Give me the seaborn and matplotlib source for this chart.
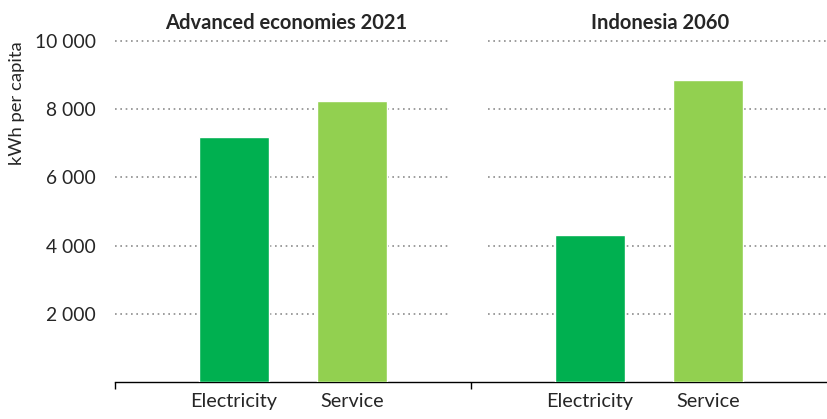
import matplotlib
matplotlib.use("Agg")
import matplotlib.pyplot as plt
import seaborn as sns
import pandas as pd

# values (kWh per capita)
categories = ["Electricity", "Service"]
panels = ["Advanced economies 2021", "Indonesia 2060"]
advanced_2021 = [7200, 8250]
indonesia_2060 = [4300, 8870]
yticks = [2000, 4000, 6000, 8000, 10000]
ytick_labels = ["2 000", "4 000", "6 000", "8 000", "10 000"]

colors = {"Electricity": "#00B050", "Service": "#92D050"}

sns.set_style("white")
plt.rcParams["font.family"] = ["Lato", "DejaVu Sans"]

fig, axes = plt.subplots(1, 2, figsize=(8.27, 4.19), dpi=100, sharey=True)
fig.subplots_adjust(left=0.139, right=1.0, bottom=0.088, top=0.902, wspace=0)

for ax, title, vals in zip(axes, panels, [advanced_2021, indonesia_2060]):
    df = pd.DataFrame({"cat": categories, "val": vals})
    sns.barplot(data=df, x="cat", y="val", hue="cat", palette=colors,
                saturation=1, width=0.59, legend=False, ax=ax, zorder=3)
    ax.set_xlim(-1.0, 2.0)
    ax.set_ylim(0, 10000)
    ax.set_xlabel("")
    ax.set_ylabel("")
    for s in ["top", "right", "left"]:
        ax.spines[s].set_visible(False)
    ax.spines["bottom"].set_color("black")
    ax.spines["bottom"].set_linewidth(1.0)
    ax.tick_params(axis="x", length=0, labelsize=14.3, pad=8)
    ax.tick_params(axis="y", length=0, labelsize=13.9, pad=14)

axes[0].set_title(panels[0], fontsize=14.5, fontweight="bold", x=0.48, pad=9)
axes[1].set_title(panels[1], fontsize=14.5, fontweight="bold", x=0.53, pad=9)

# dotted gridlines, with a gap around the panel divider
for y in yticks:
    axes[0].axhline(y, xmin=0, xmax=0.944, color="#8C8C8C", lw=1.2,
                    ls=(0, (1, 2.2)), zorder=1, clip_on=False)
    axes[1].axhline(y, xmin=0.048, xmax=1.0, color="#8C8C8C", lw=1.2,
                    ls=(0, (1, 2.2)), zorder=1, clip_on=False)

axes[0].set_yticks(yticks)
axes[0].set_yticklabels(ytick_labels)

# y label sits at the top of the axis, as in the source
fig.text(17 / 827, 0.902, "kWh per capita", rotation=90, fontsize=13.3,
         ha="center", va="top")

# small tick marks at the panel edges on the x axis
for ax in axes:
    ax.set_xticks([-1.0], minor=True)
    ax.tick_params(axis="x", which="minor", bottom=True, length=5, width=1,
                   color="black", direction="out")

fig.savefig("out.png", dpi=100)
